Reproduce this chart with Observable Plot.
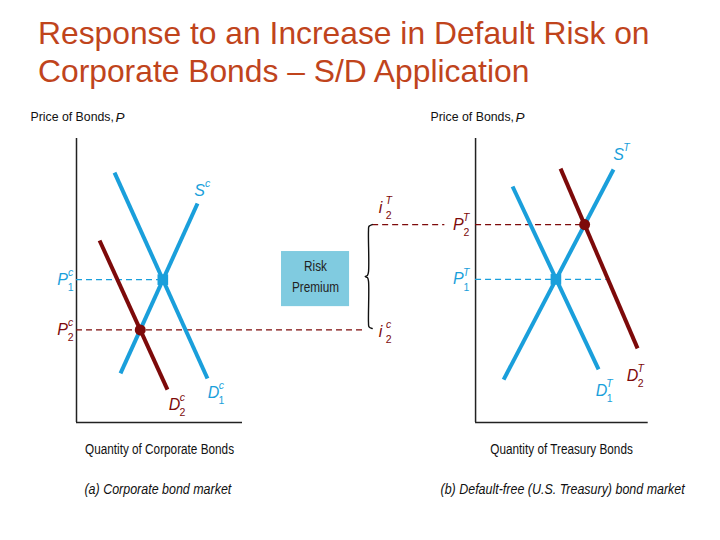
<!DOCTYPE html>
<html>
<head>
<meta charset="utf-8">
<script src="https://cdn.jsdelivr.net/npm/d3@7"></script>
<script src="https://cdn.jsdelivr.net/npm/@observablehq/plot@0.6"></script>
<style>
  html, body { margin: 0; padding: 0; background: #fff; }
  #title {
    box-sizing: border-box; height: 95px; padding: 14px 0 0 38px;
    font-family: "Liberation Sans", Arial, sans-serif; font-size: 31.8px; line-height: 38px;
    color: #c0441c; white-space: nowrap;
  }
  #chart svg { display: block; }
</style>
</head>
<body>
<div id="title">Response to an Increase in Default Risk on<br>Corporate Bonds – S/D Application</div>
<div id="chart"></div>
<script>
// ---- Data (quantity q, price p in diagram units; each panel's axes run 0..100) ----
const supplyA   = [[26.5, 17.3], [72.9, 77.1]];   // S^c
const demand1A  = [[22.9, 88.0], [78.9, 15.5]];   // D^c_1
const demand2A  = [[13.9, 64.1], [54.8, 11.6]];   // D^c_2
const supplyB   = [[16.9, 15.1], [83.1, 89.1]];   // S^T
const demand1B  = [[22.3, 83.1], [74.1, 18.7]];   // D^T_1
const demand2B  = [[51.2, 89.4], [97.6, 26.1]];   // D^T_2
const eqA = [[52.0, 50.3], [38.4, 32.6]];         // (P^c_1), (P^c_2)
const eqB = [[48.4, 50.4], [65.7, 69.7]];         // (P^T_1), (P^T_2)
const axisLabels = ["Price of Bonds,", "P"];
const qtyLabels = ["Quantity of Corporate Bonds", "Quantity of Treasury Bonds"];
const captions = ["(a) Corporate bond market", "(b) Default-free (U.S. Treasury) bond market"];
const boxText = ["Risk", "Premium"];

// ---- layout ----
const OFFSET_B = 240.4;   // horizontal offset of panel (b) in diagram units
const BLUE = "#1a9fdb", RED = "#7d0a0a", BOX = "#80cbe0";
const SANS = "'Liberation Sans', Arial, sans-serif";

const bx = q => q + OFFSET_B;
const seg = (pts, panel, color, name) => pts.map(([q, p]) => ({q: panel === "b" ? bx(q) : q, p, color, name}));

const curves = [
  ...seg(supplyA, "a", BLUE, "Sa"), ...seg(demand1A, "a", BLUE, "D1a"), ...seg(demand2A, "a", RED, "D2a"),
  ...seg(supplyB, "b", BLUE, "Sb"), ...seg(demand1B, "b", BLUE, "D1b"), ...seg(demand2B, "b", RED, "D2b")
];

// brace between the two i_2 levels
const braceQ = bx(-64.5);
const braceTop = eqB[1][1], braceBot = eqA[1][1] + 0.5;
const braceMid = (braceTop + braceBot) / 2;
const brace = [
  [braceQ + 2.2, braceTop], [braceQ + 0.3, braceTop - 0.6], [braceQ, braceTop - 2.2],
  [braceQ, braceMid + 1.6], [braceQ - 0.6, braceMid + 0.4], [braceQ - 2.0, braceMid],
  [braceQ - 0.6, braceMid - 0.4], [braceQ, braceMid - 1.6],
  [braceQ, braceBot + 2.2], [braceQ + 0.3, braceBot + 0.6], [braceQ + 2.2, braceBot]
].map(([q, p]) => ({q, p}));

const dashes = [
  {q1: 0, q2: eqA[0][0], p: eqA[0][1], color: BLUE},
  {q1: 0, q2: braceQ - 1.5, p: eqA[1][1], color: RED},
  {q1: bx(0), q2: bx(79.8), p: eqB[0][1], color: BLUE},
  {q1: bx(0), q2: bx(eqB[1][0]), p: eqB[1][1], color: RED},
  {q1: braceQ + 2.5, q2: bx(-18.5), p: eqB[1][1], color: RED}
];

// composite labels: base letter + superscript + subscript
const labels = [
  {q: 74.1, p: 81.7, base: "S", sup: "c", sub: "", color: BLUE},
  {q: -8.4, p: eqA[0][1], base: "P", sup: "c", sub: "1", color: BLUE},
  {q: -8.4, p: eqA[1][1], base: "P", sup: "c", sub: "2", color: RED},
  {q: 82.5, p: 10.6, base: "D", sup: "c", sub: "1", color: BLUE},
  {q: 59.0, p: 6.3, base: "D", sup: "c", sub: "2", color: RED},
  {q: bx(-57.2), p: 75.7, base: "i", sup: "T", sub: "2", color: RED},
  {q: bx(-57.2), p: 31.9, base: "i", sup: "c", sub: "2", color: RED},
  {q: bx(-10.4), p: eqB[1][1], base: "P", sup: "T", sub: "2", color: RED},
  {q: bx(-10.4), p: eqB[0][1], base: "P", sup: "T", sub: "1", color: BLUE},
  {q: bx(86.1), p: 94.4, base: "S", sup: "T", sub: "", color: BLUE},
  {q: bx(75.9), p: 11.3, base: "D", sup: "T", sub: "1", color: BLUE},
  {q: bx(94.6), p: 16.5, base: "D", sup: "T", sub: "2", color: RED}
];

const axesV = [{q: 0}, {q: bx(0)}];
const axesH = [{q1: 0, q2: 100}, {q1: bx(0), q2: bx(104)}];
const priceTitles = [{q: -27.7}, {q: bx(-27.1)}];

const chart = Plot.plot({
  width: 720, height: 445, margin: 0,
  x: {domain: [0, 100], range: [76, 242], axis: null},
  y: {domain: [0, 100], range: [327, 43], axis: null},
  marks: [
    // risk premium box
    Plot.rect([{x1: bx(-116.9), x2: bx(-75.9), y1: 40.8, y2: 60.2}], {x1: "x1", x2: "x2", y1: "y1", y2: "y2", fill: BOX}),
    Plot.text(boxText, {x: bx(-96.4), y: (d, i) => i === 0 ? 54.9 : 47.5, text: d => d, fontSize: 14, fontFamily: SANS, fill: "#222"}),
    // axes
    Plot.ruleX(axesV, {x: "q", y1: 0, y2: 100, stroke: "#222", strokeWidth: 1.5}),
    Plot.ruleY(axesH, {y: 0, x1: "q1", x2: "q2", stroke: "#222", strokeWidth: 1.5}),
    // dashed price lines
    Plot.ruleY(dashes, {y: "p", x1: "q1", x2: "q2", stroke: "color", strokeWidth: 1.2, strokeDasharray: "6,4"}),
    // curves
    Plot.line(curves, {x: "q", y: "p", z: "name", stroke: "color", strokeWidth: 4, strokeLinecap: "butt"}),
    // equilibria
    Plot.dot([eqA[0], eqB[0]], {x: d => d === eqB[0] ? bx(d[0]) : d[0], y: d => d[1], symbol: "square", r: 6, fill: BLUE}),
    Plot.dot([eqA[1], eqB[1]], {x: d => d === eqB[1] ? bx(d[0]) : d[0], y: d => d[1], r: 5.5, fill: RED}),
    // brace
    Plot.line(brace, {x: "q", y: "p", curve: "catmull-rom", stroke: "#111", strokeWidth: 1.4}),
    // labels
    Plot.text(labels, {x: "q", y: "p", text: "base", fill: "color", fontSize: 16, fontStyle: "italic", fontFamily: SANS}),
    Plot.text(labels, {x: "q", y: "p", text: "sup", fill: "color", fontSize: 10.5, fontStyle: "italic", dx: 8, dy: -7, fontFamily: SANS}),
    Plot.text(labels, {x: "q", y: "p", text: "sub", fill: "color", fontSize: 10.5, dx: 8, dy: 8, fontFamily: SANS}),
    // axis titles
    Plot.text(priceTitles, {x: "q", y: 107.4, text: () => axisLabels[0], textAnchor: "start", fontSize: 12.3, fontFamily: SANS, fill: "#111"}),
    Plot.text(priceTitles, {x: "q", y: 107.4, dx: 85, text: () => axisLabels[1], textAnchor: "start", fontSize: 13.5, fontStyle: "italic", fontFamily: SANS, fill: "#111"}),
    Plot.text(qtyLabels, {x: (d, i) => i === 0 ? 50 : bx(51.8), y: -9.5, text: d => d, fontSize: 14, fontFamily: SANS, fill: "#111"}),
    Plot.text(captions, {x: (d, i) => i === 0 ? 4.8 : bx(-21.1), y: -23.6, text: d => d, textAnchor: "start", fontSize: 14, fontStyle: "italic", fontFamily: SANS, fill: "#111"})
  ]
});
document.getElementById("chart").appendChild(chart);

// condensed look (like Arial Narrow): compress glyphs horizontally
d3.select(chart).selectAll("text").each(function() {
  const t = this.textContent;
  let f = 0;
  if (qtyLabels.includes(t) || boxText.includes(t)) f = 0.84;
  else if (captions.includes(t)) f = 0.89;
  if (f) {
    const w = this.getComputedTextLength();
    d3.select(this).attr("textLength", w * f).attr("lengthAdjust", "spacingAndGlyphs");
  }
});
</script>
</body>
</html>
